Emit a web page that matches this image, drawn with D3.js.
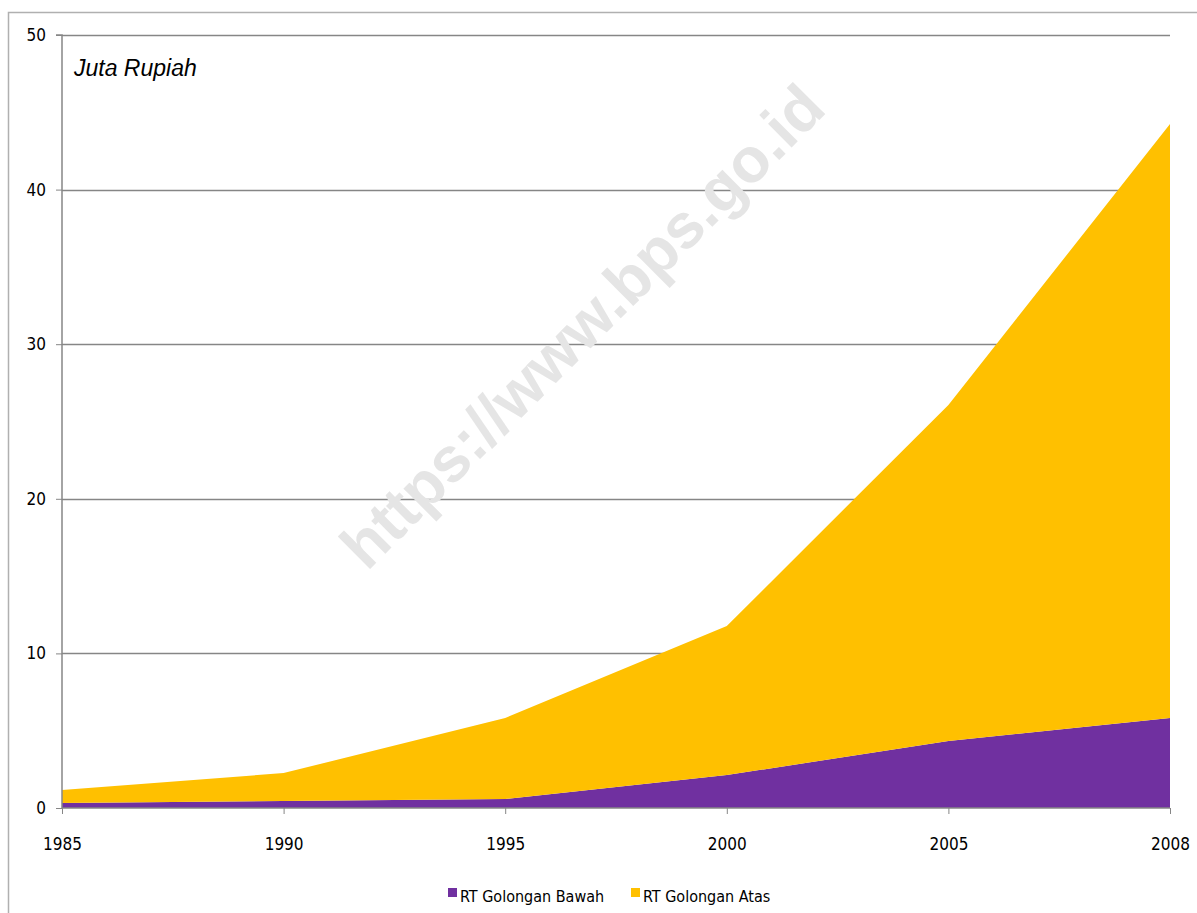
<!DOCTYPE html>
<meta charset="utf-8">
<style>
    body { margin: 0; background: #fff; }
    .tick text { font-family: "Liberation Sans Narrow", "DejaVu Sans Condensed", sans-serif; font-size: 17px; fill: #000; }
    .legend text { font-family: "Liberation Sans Narrow", "DejaVu Sans Condensed", sans-serif; font-size: 16px; fill: #000; }
</style>
<body>
<script src="https://cdn.jsdelivr.net/npm/d3@7"></script>
<script>

    var years = ["1985", "1990", "1995", "2000", "2005", "2008"];
    var bawah = [0.32, 0.45, 0.58, 2.13, 4.33, 5.82];
    var atas  = [0.84, 1.81, 5.24, 9.64, 21.74, 38.42];
    var seriesNames = ["RT Golongan Bawah", "RT Golongan Atas"];
    var colors = ["#7030A0", "#FFC000"];
    var yTicks = [0, 10, 20, 30, 40, 50];

    var margin = {top: 35, left: 62, right: 27, bottom: 105},
        W = 1197, H = 913,
        width = W - margin.left - margin.right,
        height = H - margin.top - margin.bottom;

    var rows = years.map(function(y, i) { return {year: y, bawah: bawah[i], atas: atas[i]}; });
    var stack = d3.stack().keys(["bawah", "atas"])(rows);

    var x = d3.scalePoint().domain(years).range([0, width]);
    var y = d3.scaleLinear().domain([0, 50]).range([height, 0]);

    var svg = d3.select("body").append("svg")
        .attr("width", W)
        .attr("height", H);

    // outer frame
    svg.append("path")
        .attr("d", "M8.5," + H + "V12.5H" + W)
        .attr("fill", "none")
        .attr("stroke", "#b0b0b0")
        .attr("stroke-width", 1.5);

    var g = svg.append("g")
        .attr("transform", "translate(" + margin.left + "," + margin.top + ")");

    // gridlines
    g.append("g")
        .selectAll("line")
        .data(yTicks.slice(1))
        .join("line")
        .attr("x1", 0).attr("x2", width)
        .attr("y1", function(d) { return Math.round(y(d)) + 0.5; })
        .attr("y2", function(d) { return Math.round(y(d)) + 0.5; })
        .attr("stroke", "#868686")
        .attr("stroke-width", 1.3);

    // watermark
    g.append("text")
        .attr("transform", "translate(" + (582 - margin.left) + "," + (326 - margin.top) + ") rotate(-45)")
        .attr("text-anchor", "middle")
        .attr("dominant-baseline", "central")
        .style("font-family", "Arial, 'Liberation Sans', sans-serif")
        .style("font-weight", "bold")
        .style("font-size", "63px")
        .attr("fill", "#e5e5e5")
        .text("https://www.bps.go.id");

    var area = d3.area()
        .x(function(d) { return x(d.data.year); })
        .y0(function(d) { return y(d[0]); })
        .y1(function(d) { return y(d[1]); });

    g.append("g")
        .selectAll("path")
        .data(stack)
        .join("path")
        .attr("fill", function(d, i) { return colors[i]; })
        .attr("d", area);

    // axes
    var yAxis = d3.axisLeft(y).tickValues(yTicks).tickSize(6).tickPadding(10);
    var yg = g.append("g").call(yAxis);
    yg.select(".domain").attr("stroke", "#868686").attr("stroke-width", 1.5).attr("d", "M-6," + y(50) + "H0V" + height);
    yg.selectAll(".tick line").attr("stroke", "#868686");

    var xAxis = d3.axisBottom(x).tickSize(6).tickPadding(24);
    var xg = g.append("g")
        .attr("transform", "translate(0," + height + ")")
        .call(xAxis);
    xg.select(".domain").attr("stroke", "#868686").attr("stroke-width", 1.5).attr("d", "M0,0H" + width);
    xg.selectAll(".tick line").attr("stroke", "#868686");

    // unit label
    g.append("text")
        .attr("x", 12)
        .attr("y", 41)
        .style("font-family", "Arial, 'Liberation Sans', sans-serif")
        .style("font-style", "italic")
        .style("font-size", "23px")
        .text("Juta Rupiah");

    // legend
    var legendX = [448, 631];
    var legend = svg.append("g").attr("class", "legend")
        .selectAll("g")
        .data(seriesNames)
        .join("g")
        .attr("transform", function(d, i) { return "translate(" + legendX[i] + ",888)"; });
    legend.append("rect")
        .attr("width", 9).attr("height", 9)
        .attr("fill", function(d, i) { return colors[i]; });
    legend.append("text")
        .attr("x", 12)
        .attr("y", 14)
        .text(function(d) { return d; });

</script>
